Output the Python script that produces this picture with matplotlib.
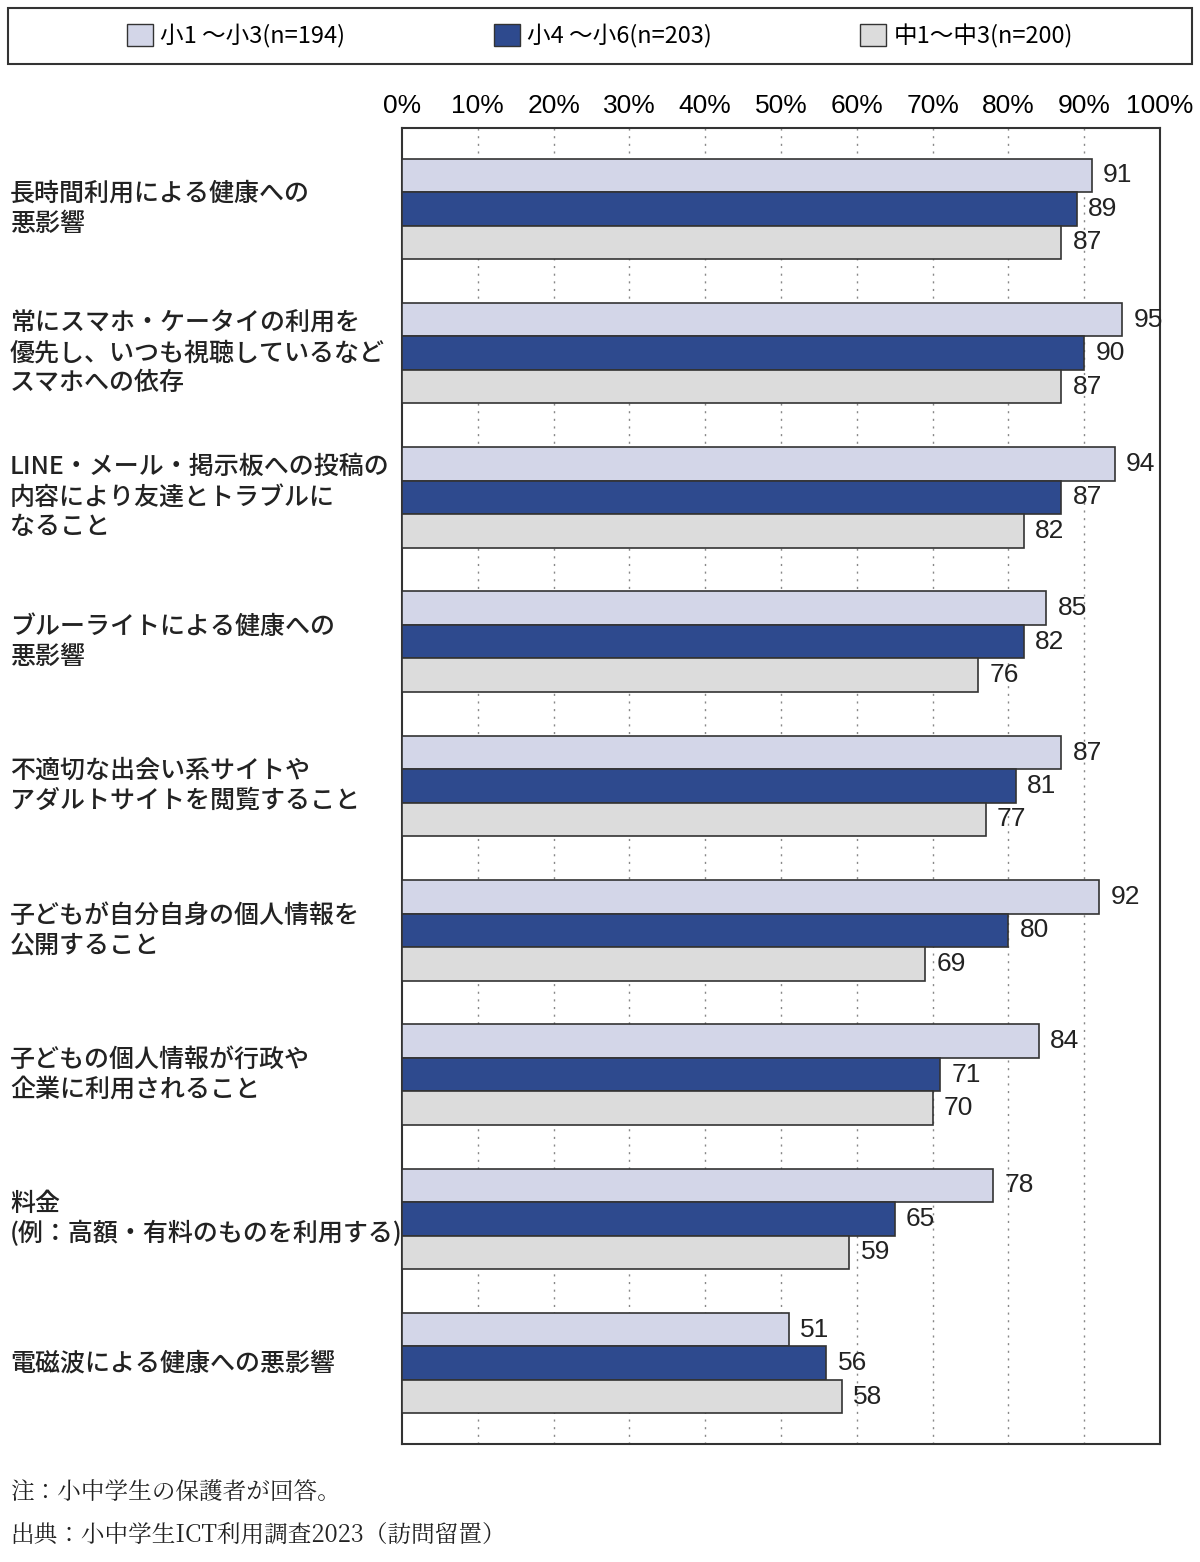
import numpy as np
import matplotlib
matplotlib.use("Agg")
import matplotlib.pyplot as plt
from matplotlib.patches import Patch, Rectangle
from matplotlib.transforms import blended_transform_factory

plt.rcParams['font.family'] = ['Noto Sans CJK JP', 'DejaVu Sans']

categories = [
    "長時間利用による健康への\n悪影響",
    "常にスマホ・ケータイの利用を\n優先し、いつも視聴しているなど\nスマホへの依存",
    "LINE・メール・掲示板への投稿の\n内容により友達とトラブルに\nなること",
    "ブルーライトによる健康への\n悪影響",
    "不適切な出会い系サイトや\nアダルトサイトを閲覧すること",
    "子どもが自分自身の個人情報を\n公開すること",
    "子どもの個人情報が行政や\n企業に利用されること",
    "料金\n(例：高額・有料のものを利用する)",
    "電磁波による健康への悪影響",
]
series_names = ["小1 ～小3(n=194)", "小4 ～小6(n=203)", "中1～中3(n=200)"]
grade_1_3 = [91, 95, 94, 85, 87, 92, 84, 78, 51]
grade_4_6 = [89, 90, 87, 82, 81, 80, 71, 65, 56]
junior_high = [87, 87, 82, 76, 77, 69, 70, 59, 58]
tick_values = [0, 10, 20, 30, 40, 50, 60, 70, 80, 90, 100]

colors = ["#D3D6E8", "#2E4A8E", "#DCDCDC"]
NUM_FONT = ['Liberation Sans Narrow', 'Liberation Sans', 'DejaVu Sans']

W, H = 1200, 1562
fig = plt.figure(figsize=(W / 100, H / 100), dpi=100)
ax = fig.add_axes([402 / W, 1 - 1444 / H, (1160 - 402) / W, (1444 - 128) / H])

y = np.arange(len(categories))
bh = 0.232
for i, vals in enumerate([grade_1_3, grade_4_6, junior_high]):
    yy = y + (i - 1) * bh
    ax.barh(yy, vals, height=bh, color=colors[i], edgecolor="#333333",
            linewidth=1.2, zorder=3)
    for yv, v in zip(yy, vals):
        ax.text(v + 1.5, yv, str(v), va="center", ha="left", fontsize=19,
                family=NUM_FONT, color="#222222", zorder=4)

ax.set_xlim(0, 100)
ax.set_ylim(len(categories) - 1 + 0.56, -0.56)
ax.set_xticks(tick_values)
ax.set_xticklabels([f"{t}%" for t in tick_values], family=NUM_FONT, fontsize=19)
ax.xaxis.tick_top()
ax.tick_params(axis="x", length=0, pad=7)
ax.set_yticks([])
for t in tick_values[1:-1]:
    ax.axvline(t, color="#888888", linestyle=(0, (1.5, 4)), linewidth=1, zorder=1)
for s in ax.spines.values():
    s.set_color("#333333")
    s.set_linewidth(1.5)

trans = blended_transform_factory(fig.transFigure, ax.transData)
for yv, lab in zip(y, categories):
    ax.text(10 / W, yv, lab, transform=trans, ha="left", va="center",
            fontsize=18, fontweight="medium", linespacing=1.2, color="#222222")

# legend with a full-width frame
handles = [Patch(facecolor=c, edgecolor="#333333", linewidth=1) for c in colors]
fig.legend(handles, series_names, loc="center", bbox_to_anchor=(0.5, 1 - 36 / H),
           ncol=3, frameon=False, fontsize=17, handlelength=1.1, handleheight=1.1,
           handletextpad=0.3, columnspacing=6.3)
fig.patches.append(Rectangle((8 / W, 1 - 64 / H), 1184 / W, 56 / H,
                             transform=fig.transFigure, fill=False,
                             edgecolor="#333333", linewidth=1.5))

foot_font = ['Noto Serif CJK JP', 'Noto Sans CJK JP', 'DejaVu Sans']
fig.text(10 / W, 1 - 1492 / H, "注：小中学生の保護者が回答。", family=foot_font,
         fontsize=17, va="center", ha="left", color="#222222")
fig.text(10 / W, 1 - 1535 / H, "出典：小中学生ICT利用調査2023（訪問留置）",
         family=foot_font, fontsize=17, va="center", ha="left", color="#222222")

fig.savefig("out.png", dpi=100)
